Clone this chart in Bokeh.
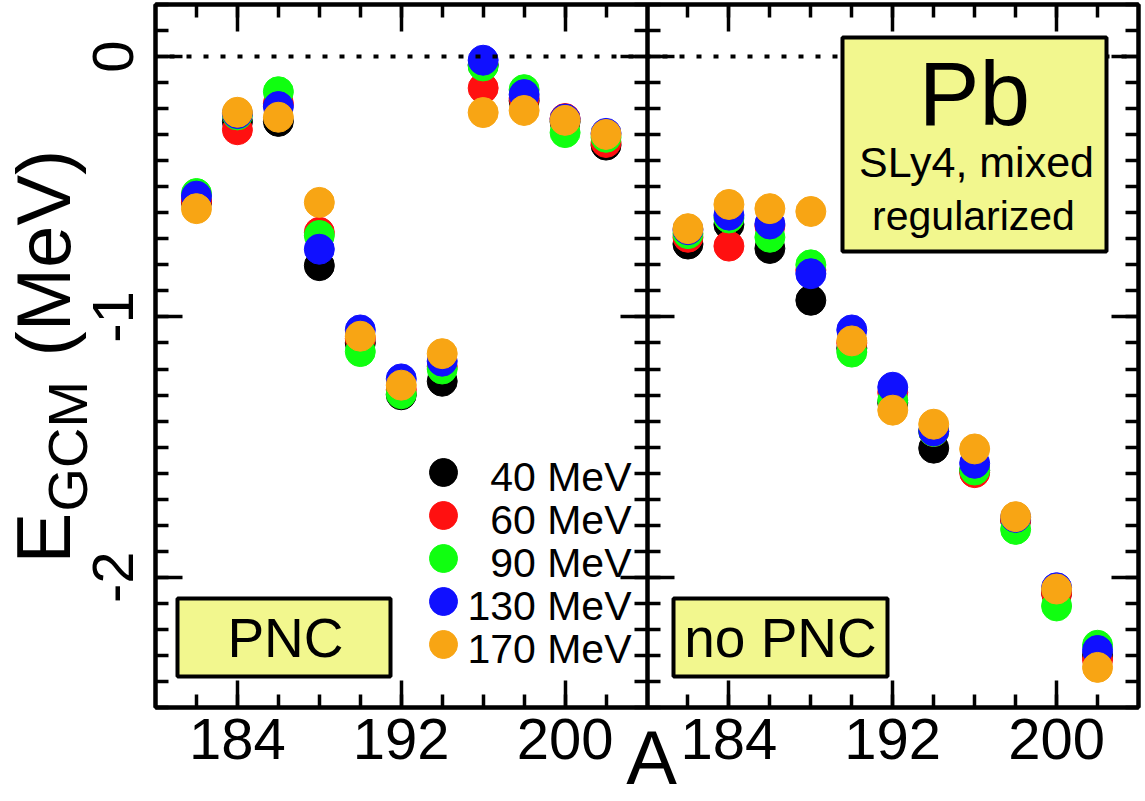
import math
from bokeh.plotting import figure
from bokeh.models import Range1d, LinearAxis, FixedTicker, BoxAnnotation, Label
from bokeh.embed import file_html
from bokeh.resources import INLINE
from bokeh.core.properties import value

# ---------------- data ----------------
A = [182, 184, 186, 188, 190, 192, 194, 196, 198, 200, 202]
energies = ["40 MeV", "60 MeV", "90 MeV", "130 MeV", "170 MeV"]
colors = ["#000000", "#ff1010", "#10ff10", "#1010ff", "#f8a514"]

# PNC panel (left)
pnc_40 = [-0.560, -0.250, -0.249, -0.803, -1.100, -1.299, -1.247, -0.032, -0.170, -0.250, -0.340]
pnc_60 = [-0.555, -0.281, -0.180, -0.675, -1.083, -1.280, -1.190, -0.121, -0.160, -0.238, -0.330]
pnc_90 = [-0.526, -0.224, -0.135, -0.687, -1.133, -1.295, -1.200, -0.036, -0.127, -0.292, -0.310]
pnc_130 = [-0.536, -0.219, -0.192, -0.740, -1.050, -1.238, -1.170, -0.014, -0.146, -0.240, -0.295]
pnc_170 = [-0.584, -0.214, -0.233, -0.560, -1.074, -1.262, -1.141, -0.215, -0.207, -0.245, -0.299]

# no PNC panel (right)
nopnc_40 = [-0.720, -0.645, -0.737, -0.936, -1.120, -1.330, -1.504, -1.590, -1.780, -2.060, -2.300]
nopnc_60 = [-0.694, -0.728, -0.650, -0.820, -1.100, -1.290, -1.440, -1.598, -1.780, -2.060, -2.317]
nopnc_90 = [-0.680, -0.620, -0.694, -0.800, -1.135, -1.320, -1.440, -1.588, -1.816, -2.110, -2.261]
nopnc_130 = [-0.665, -0.609, -0.643, -0.834, -1.050, -1.270, -1.438, -1.562, -1.770, -2.040, -2.281]
nopnc_170 = [-0.661, -0.568, -0.584, -0.595, -1.092, -1.358, -1.412, -1.507, -1.767, -2.045, -2.346]

x_ticks = [184, 192, 200]
y_ticks = [0, -1, -2]
y_tick_labels = ["0", "-1", "-2"]

# ---------------- layout ----------------
FONT = "Liberation Sans"
W, H = 1145, 801
FL, FR, FT, FB = 155, 1138, 4, 707           # panel box edges, canvas pixels
PANEL = (180, 204)                            # A range of each panel
SHIFT = PANEL[1] - PANEL[0]
X_LO, X_HI = PANEL[0], PANEL[1] + SHIFT       # both panels on the default range
Y_LO, Y_HI = -2.5, 0.2
BOXFILL = "#f2f78e"
K = 0.35                                      # baseline correction (em)

PPX = (FR - FL) / (X_HI - X_LO)
PPY = (FB - FT) / (Y_HI - Y_LO)
x_start, x_end = X_LO - FL / PPX, X_HI + (W - FR) / PPX
y_start, y_end = Y_LO - (H - FB) / PPY, Y_HI + FT / PPY


def sx(px):
    return x_start + px / PPX


def sy(py):
    return y_end - py / PPY


p = figure(width=W, height=H,
           x_range=Range1d(x_start, x_end), y_range=Range1d(y_start, y_end),
           output_backend="svg", toolbar_location=None,
           x_axis_type=None, y_axis_type=None,
           min_border=0, min_border_left=0, min_border_right=0,
           min_border_top=0, min_border_bottom=0,
           outline_line_color=None,
           background_fill_color="white", border_fill_color="white")
p.extra_x_ranges = {"nopnc": Range1d(x_start - SHIFT, x_end - SHIFT)}

# ---------------- axes (fixed at the panel edges) ----------------
x_minor = list(range(PANEL[0] + 2, PANEL[1], 2))
bx_major = x_ticks + [t + SHIFT for t in x_ticks]
bx_minor = x_minor + [t + SHIFT for t in x_minor]
bx_over = {}
for t in x_ticks:
    bx_over[t] = str(t)
    bx_over[t + SHIFT] = str(t)
y_minor = [round(Y_LO + 0.1 * i, 1) for i in range(28)]


def make_axis(ticks, minor, loc, bounds, labels=False):
    ax = LinearAxis(ticker=FixedTicker(ticks=ticks, minor_ticks=minor),
                    fixed_location=loc, bounds=bounds)
    ax.axis_line_width = 4
    ax.axis_line_color = "black"
    ax.major_tick_line_width = 3.5
    ax.minor_tick_line_width = 3.5
    ax.major_tick_in = 27
    ax.major_tick_out = 0
    ax.minor_tick_in = 13
    ax.minor_tick_out = 0
    ax.major_label_text_font = FONT
    if labels:
        ax.major_label_text_font_size = "58px"
        ax.major_label_text_color = "black"
    else:
        ax.major_label_text_font_size = "0px"
        ax.major_label_text_color = None
        ax.major_label_standoff = 0
    return ax


bottom = make_axis(bx_major, bx_minor, Y_LO, (X_LO, X_HI), labels=True)
bottom.major_label_overrides = bx_over
bottom.major_label_standoff = 11
p.add_layout(bottom, "below")

top = make_axis(bx_major, bx_minor, Y_HI, (X_LO, X_HI))
p.add_layout(top, "above")

left = make_axis(y_ticks, y_minor, X_LO, (Y_LO, Y_HI), labels=True)
left.major_label_overrides = dict(zip(y_ticks, y_tick_labels))
left.major_label_orientation = "vertical"
left.major_label_standoff = 22
p.add_layout(left, "left")

right = make_axis(y_ticks, y_minor, X_HI, (Y_LO, Y_HI))
p.add_layout(right, "right")

div_l = make_axis(y_ticks, y_minor, PANEL[1], (Y_LO, Y_HI))
p.add_layout(div_l, "left")
div_r = make_axis(y_ticks, y_minor, PANEL[1], (Y_LO, Y_HI))
p.add_layout(div_r, "right")

# panel box (clean corners)
p.add_layout(BoxAnnotation(left=X_LO, right=X_HI, bottom=Y_LO, top=Y_HI,
                           fill_alpha=0, line_color="black", line_width=4, line_alpha=1))

# ---------------- data points ----------------
pnc = [pnc_40, pnc_60, pnc_90, pnc_130, pnc_170]
nopnc = [nopnc_40, nopnc_60, nopnc_90, nopnc_130, nopnc_170]
for vals, c in zip(pnc, colors):
    p.scatter(A, vals, size=30, fill_color=c, line_color=c)
for vals, c in zip(nopnc, colors):
    p.scatter(A, vals, size=30, fill_color=c, line_color=c, x_range_name="nopnc")

# zero line (dotted, above the points)
p.line([X_LO, X_HI], [0, 0], line_color="black", line_width=4, line_dash="5 12",
       line_dash_offset=3)

# ---------------- legend (right-aligned text) ----------------
leg_y0, leg_dy = 472, 43
p.scatter([sx(443)] * 5, [sy(leg_y0 + leg_dy * i) for i in range(5)], size=28,
          fill_color=colors, line_color=colors)
p.text([sx(631)] * 5, [sy(leg_y0 + 19 + leg_dy * i - K * 41) for i in range(5)],
       text=energies, text_align="right", text_baseline="alphabetic",
       text_font=value(FONT), text_font_size="41px", text_color="black")


# ---------------- boxes and texts ----------------
def box(l, r, t, b):
    p.add_layout(BoxAnnotation(left=sx(l), right=sx(r), top=sy(t), bottom=sy(b),
                               fill_color=BOXFILL, fill_alpha=1.0,
                               line_color="black", line_width=4, line_alpha=1.0))


def label(px, py, text, size, align="center", vertical=False):
    if vertical:
        ax_, ay_ = px - K * size, py
    else:
        ax_, ay_ = px, py - K * size
    p.add_layout(Label(x=sx(ax_), y=sy(ay_), text=text,
                       angle=math.pi / 2 if vertical else 0.0,
                       text_font=FONT, text_font_size=f"{size}px", text_color="black",
                       text_align=align, text_baseline="alphabetic"))


box(177, 390, 598, 676)
label(285, 657, "PNC", 55)
box(673, 887, 598, 676)
label(780, 657, "no PNC", 55)
box(842, 1106, 37, 251)
label(974, 125, "Pb", 91)
label(976, 177, "SLy4, mixed", 43)
label(973, 230, "regularized", 41)

# axis titles
label(70, 563, "E", 76, align="left", vertical=True)
label(87, 511, "GCM", 56, align="left", vertical=True)
label(70, 356, "(MeV)", 76, align="left", vertical=True)
label(651, 784, "A", 76)

open("out.html", "w").write(file_html(p, INLINE))
